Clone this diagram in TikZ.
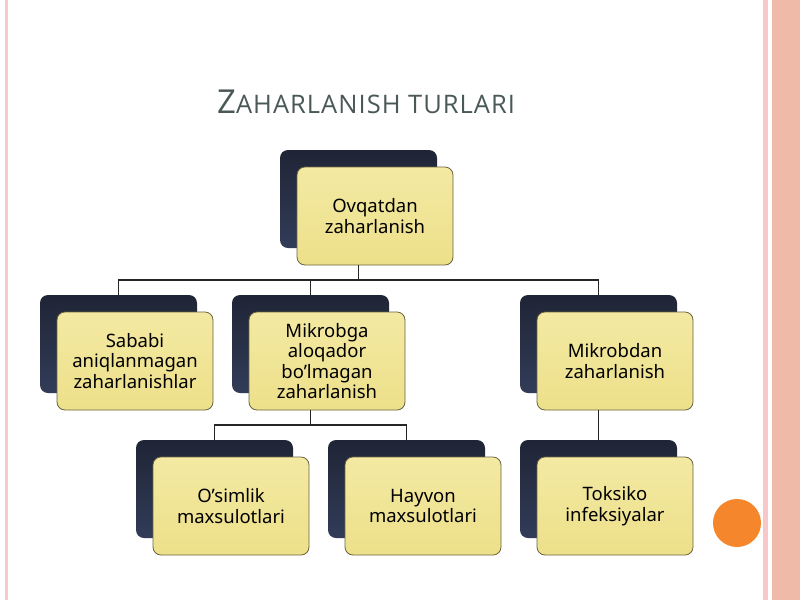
\documentclass[tikz,border=0pt]{standalone}
\usepackage{fontspec}
\setmainfont{Noto Sans}
\newfontfamily\titlefont{Open Sans}
\newfontfamily\titlefontsp[LetterSpace=4]{Open Sans}
\usetikzlibrary{shadows}
\definecolor{darkbox}{HTML}{1F2536}
\definecolor{darkbox2}{HTML}{323C58}
\definecolor{yelbox}{HTML}{F3E9A2}
\definecolor{yelbox2}{HTML}{EDE08A}
\definecolor{yelborder}{HTML}{6B6440}
\definecolor{titlecol}{HTML}{4A5858}
\definecolor{pinkline}{HTML}{F8C8C8}
\definecolor{salmon}{HTML}{EFBBA8}
\definecolor{orangedot}{HTML}{F5862C}
\begin{document}
\begin{tikzpicture}[x=1pt,y=-1pt,
  backbox/.style={rounded corners=8pt, top color=darkbox, bottom color=darkbox2, draw=none,
    minimum width=157pt, minimum height=98pt, inner sep=0pt},
  frontbox/.style={rounded corners=8pt, top color=yelbox, bottom color=yelbox2, draw=yelborder, line width=0.8pt,
    minimum width=156pt, minimum height=98pt, inner sep=2pt, align=center,
    font=\fontsize{18.5}{20.5}\selectfont, text=black},
  conn/.style={draw=black!85, line width=1.2pt}]
\useasboundingbox (0,0) rectangle (800,600);
\fill[white] (0,0) rectangle (800,600);
% decorations
\fill[pinkline] (4.5,0) rectangle (8,600);
\fill[pinkline] (763,0) rectangle (768,600);
\fill[salmon] (772,0) rectangle (800,600);
\fill[orangedot] (737,523) circle (24);
% title
\node[anchor=base west, text=titlecol, inner sep=0pt] (title) at (217,113)
  {\titlefont\fontsize{33}{36}\selectfont Z\titlefontsp\fontsize{25.5}{28}\selectfont AHARLANISH TURLARI};
% back boxes
\node[backbox] (b0) at (358.5,199) {};
\node[backbox] (b1) at (118.5,344) {};
\node[backbox] (b2) at (310.5,344) {};
\node[backbox] (b3) at (598.5,344) {};
\node[backbox] (b4) at (214.5,489) {};
\node[backbox] (b5) at (406.5,489) {};
\node[backbox] (b6) at (598.5,489) {};
% front boxes
\node[frontbox] (f0) at (375,216) {Ovqatdan\\zaharlanish};
\node[frontbox] (f1) at (135,361) {Sababi\\aniqlanmagan\\zaharlanishlar};
\node[frontbox] (f2) at (327,361) {Mikrobga\\aloqador\\bo’lmagan\\zaharlanish};
\node[frontbox] (f3) at (615,361) {Mikrobdan\\zaharlanish};
\node[frontbox] (f4) at (231,506) {O’simlik\\maxsulotlari};
\node[frontbox] (f5) at (423,506) {Hayvon\\maxsulotlari};
\node[frontbox] (f6) at (615,506) {Toksiko\\infeksiyalar};
% connectors
\coordinate (j0) at (358.5,280);
\coordinate (j1) at (310.5,425);
\draw[conn] (b0.center |- f0.south) -- (j0);
\draw[conn] (b1.north) |- (j0) -| (b3.north);
\draw[conn] (j0 -| b2.north) -- (b2.north);
\draw[conn] (b2.center |- f2.south) -- (j1);
\draw[conn] (b4.north) |- (j1) -| (b5.north);
\draw[conn] (b6.center |- f3.south) -- (b6.north);
\end{tikzpicture}
\end{document}
